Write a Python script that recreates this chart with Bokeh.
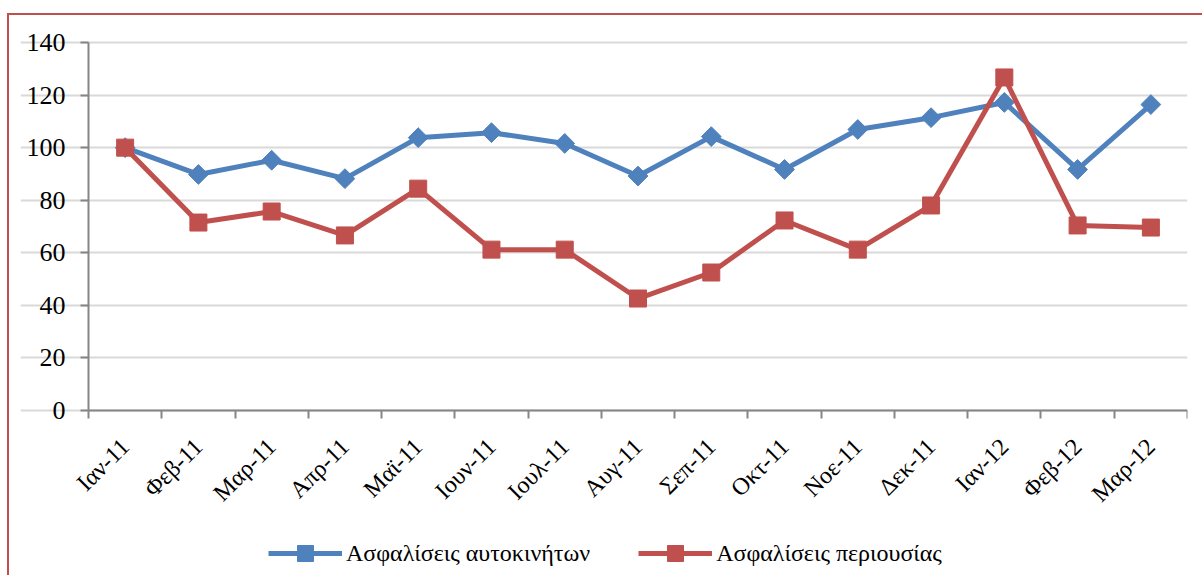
from bokeh.plotting import figure
from bokeh.models import FixedTicker, Legend, LegendItem, Range1d
from bokeh.embed import file_html
from bokeh.resources import INLINE
import math

months = ["Ιαν-11", "Φεβ-11", "Μαρ-11", "Απρ-11", "Μαϊ-11", "Ιουν-11", "Ιουλ-11", "Αυγ-11",
          "Σεπ-11", "Οκτ-11", "Νοε-11", "Δεκ-11", "Ιαν-12", "Φεβ-12", "Μαρ-12"]
auto = [100, 89.8, 95.2, 88.2, 103.8, 105.7, 101.6, 89.2, 104.2, 91.7, 106.9, 111.4, 117.2, 91.7, 116.4]
prop = [100, 71.5, 75.7, 66.6, 84.4, 61.2, 61.2, 42.6, 52.5, 72.3, 61.2, 78.0, 126.7, 70.4, 69.6]
series_names = ["Ασφαλίσεις αυτοκινήτων", "Ασφαλίσεις περιουσίας"]
y_ticks = [0, 20, 40, 60, 80, 100, 120, 140]

BLUE = "#4f81bd"
RED = "#c0504d"
FONT = "Liberation Serif"

n = len(months)
xs = [i + 0.5 for i in range(n)]

# the frame extends beyond the data area so that the axes (fixed at 0)
# keep their labels inside it, together with the legend
PX_X = 1099 / n
PX_Y = 368 / 140
X_LEFT = -68 / PX_X
Y_BOTTOM = -165 / PX_Y
Y_TOP = 140 + 14 / PX_Y
p = figure(output_backend="svg", toolbar_location=None,
           x_range=Range1d(X_LEFT, n), y_range=Range1d(Y_BOTTOM, Y_TOP),
           frame_width=1167, frame_height=547,
           min_border_left=11, min_border_top=13, min_border_right=15, min_border_bottom=0)
p.styles = {"border-top": "2px solid #c0504d", "border-left": "2px solid #c0504d",
            "margin-left": "7px", "margin-top": "13px"}

p.outline_line_color = None
p.background_fill_color = "white"
p.border_fill_color = "white"

# grid
p.xgrid.grid_line_color = None
p.ygrid.grid_line_color = "#d9d9d9"
p.ygrid.grid_line_width = 2
p.ygrid.bounds = (0, n)

# y axis
p.yaxis.fixed_location = 0
p.yaxis.ticker = FixedTicker(ticks=y_ticks)
p.yaxis.bounds = (0, 140)
p.yaxis.axis_line_color = "#868686"
p.yaxis.axis_line_width = 2
p.yaxis.major_tick_line_color = "#868686"
p.yaxis.major_tick_line_width = 2
p.yaxis.major_tick_out = 8
p.yaxis.major_tick_in = 0
p.yaxis.minor_tick_line_color = None
p.yaxis.major_label_text_font = FONT
p.yaxis.major_label_text_font_size = "26px"
p.yaxis.major_label_text_color = "black"
p.yaxis.major_label_standoff = 15

# x axis
p.xaxis.fixed_location = 0
p.xaxis.bounds = (0, n)
p.xaxis.ticker = FixedTicker(ticks=xs, minor_ticks=list(range(n + 1)))
p.xaxis.major_label_overrides = {x: m for x, m in zip(xs, months)}
p.xaxis.axis_line_color = "#868686"
p.xaxis.axis_line_width = 2
p.xaxis.major_tick_line_color = None
p.xaxis.minor_tick_line_color = "#868686"
p.xaxis.minor_tick_line_width = 2
p.xaxis.minor_tick_out = 8
p.xaxis.minor_tick_in = 0
p.xaxis.major_label_orientation = math.pi / 4
p.xaxis.major_label_text_font = FONT
p.xaxis.major_label_text_font_size = "24px"
p.xaxis.major_label_text_color = "black"
p.xaxis.major_label_standoff = 24

l1 = p.line(xs, auto, line_color=BLUE, line_width=5)
m1 = p.scatter(xs, auto, marker="square", angle=math.pi / 4, size=14, fill_color=BLUE, line_color=BLUE)
l2 = p.line(xs, prop, line_color=RED, line_width=5)
m2 = p.scatter(xs, prop, marker="square", size=17, fill_color=RED, line_color=RED)

legend = Legend(items=[LegendItem(label=series_names[0], renderers=[l1, m1]),
                       LegendItem(label=series_names[1], renderers=[l2, m2])],
                orientation="horizontal", location=(248, 2))
legend.label_text_font = FONT
legend.label_text_font_size = "24px"
legend.label_text_color = "black"
legend.glyph_width = 74
legend.glyph_height = 40
legend.label_height = 40
legend.spacing = 48
legend.label_standoff = 4
legend.border_line_color = None
legend.background_fill_alpha = 0
legend.margin = 0
legend.padding = 4
p.add_layout(legend, "center")

open("out.html", "w").write(file_html(p, INLINE))
